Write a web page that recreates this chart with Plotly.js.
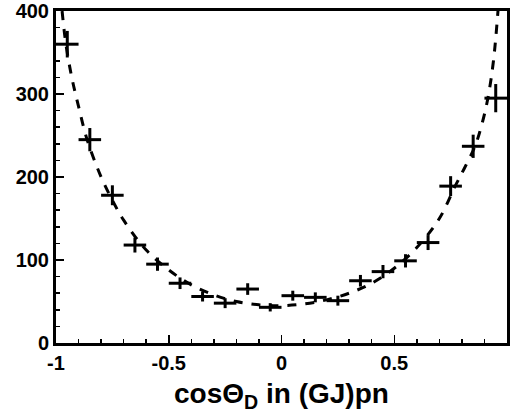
<!DOCTYPE html>
<html><head><meta charset="utf-8">
<script src="https://cdn.plot.ly/plotly-3.0.1.min.js"></script>
<style>html,body{margin:0;padding:0;background:#fff}#c{width:512px;height:416px}</style>
</head><body><div id="c"></div>
<script>
const binCenters = [-0.95,-0.85,-0.75,-0.65,-0.55,-0.45,-0.35,-0.25,-0.15,-0.05,0.05,0.15,0.25,0.35,0.45,0.55,0.65,0.75,0.85,0.95];
const counts     = [360,245,178,118,95,72,56,48,65,43,57,55,51,75,86,99,121,189,237,295];
const countErr   = [16,14,12,9,8,7,6,6,7,5,6,6,6,7,8,8,9,12,14,17];
const binHalfWidth = [0.05,0.05,0.05,0.05,0.05,0.05,0.05,0.05,0.05,0.05,0.05,0.05,0.05,0.05,0.05,0.05,0.05,0.05,0.05,0.05];
const fitX = [-0.973,-0.956,-0.93,-0.9,-0.862,-0.8,-0.75,-0.7,-0.6,-0.5,-0.4,-0.3,-0.2,-0.1,0,0.1,0.2,0.3,0.4,0.5,0.6,0.7,0.77,0.81,0.858,0.89,0.916,0.94,0.96];
const fitY = [400,360,320,285,245,200,172,148,112,88,70,58,50,46,45,47,52,60,72,90,115,150,189,210,237,265,296,340,400];

const traces = [
  {x: fitX, y: fitY, type:'scatter', mode:'lines', line:{color:'#000', width:3, dash:'dash', shape:'spline'}, hoverinfo:'none'},
  {x: binCenters, y: counts, type:'scatter', mode:'markers', marker:{size:1, color:'rgba(0,0,0,0)'},
   error_x:{type:'data', array: binHalfWidth, color:'#000', thickness:3, width:0},
   error_y:{type:'data', array: countErr, color:'#000', thickness:3, width:0}}
];
const axFont = {family:'Liberation Sans, Arial, sans-serif', size:20, color:'#000', weight:'bold'};
const layout = {
  width:512, height:416, showlegend:false,
  paper_bgcolor:'#fff', plot_bgcolor:'#fff',
  margin:{l:56, r:5, t:11, b:73},
  xaxis:{range:[-1,1], showgrid:false, zeroline:false, showline:true, mirror:true, linewidth:3, linecolor:'#000',
    ticks:'inside', tickvals:[-1,-0.5,0,0.5,1], ticktext:['-1','-0.5','0','0.5','1'], ticklen:8, tickwidth:1.5, tickcolor:'#000',
    minor:{dtick:0.1, ticks:'inside', ticklen:4, tickwidth:1.5, tickcolor:'#000', showgrid:false},
    tickfont:axFont},
  yaxis:{range:[0,400], showgrid:false, zeroline:false, showline:true, mirror:true, linewidth:3, linecolor:'#000',
    ticks:'inside', tickvals:[0,100,200,300,400], ticktext:['0','100','200','300','400'], ticklen:8, tickwidth:1.5, tickcolor:'#000',
    minor:{dtick:20, ticks:'inside', ticklen:4, tickwidth:1.5, tickcolor:'#000', showgrid:false},
    tickfont:axFont},
  annotations:[{xref:'paper', yref:'paper', x:0.5, y:-0.1, xanchor:'center', yanchor:'top', showarrow:false,
    text:'cosΘ<sub>D</sub> in (GJ)pn', font:{family:'Liberation Sans, Arial, sans-serif', size:28, color:'#000', weight:'bold'}}]
};
Plotly.newPlot('c', traces, layout, {displayModeBar:false, staticPlot:true});
</script></body></html>
